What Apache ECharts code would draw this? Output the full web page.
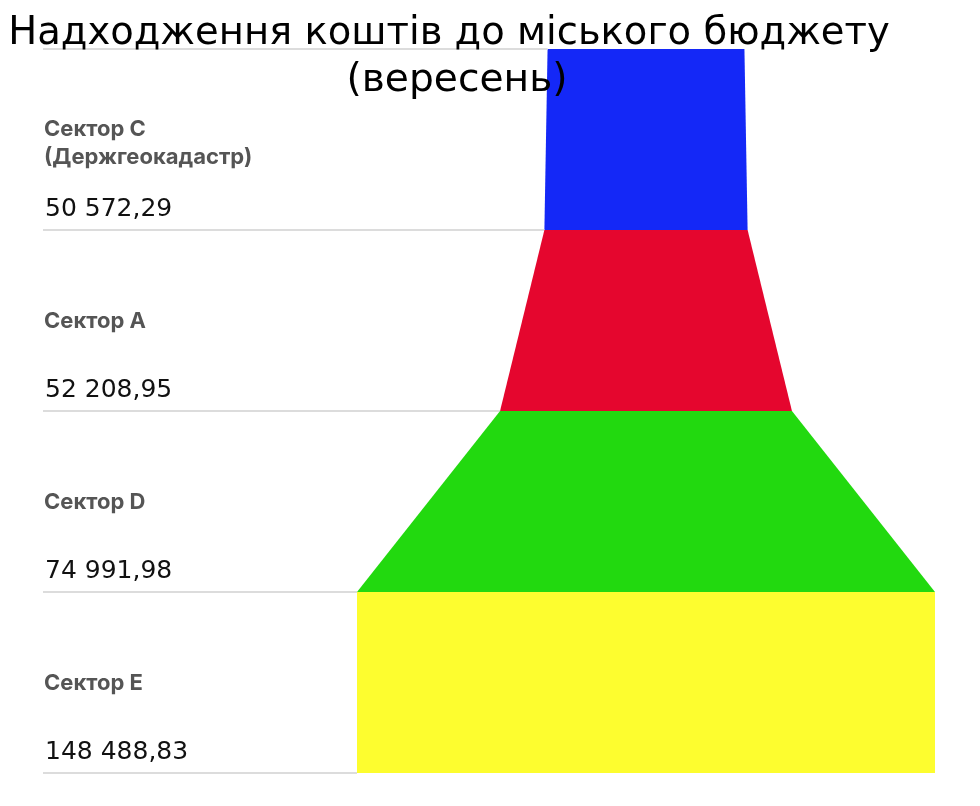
<!DOCTYPE html>
<html>
<head>
<meta charset="utf-8">
<script src="https://cdn.jsdelivr.net/npm/echarts@6/dist/echarts.min.js"></script>
<style>
html,body{margin:0;padding:0;background:#fff;}
#chart{width:980px;height:806px;}
</style>
</head>
<body>
<div id="chart"></div>
<script>
// ---- data ----
const titleLines = ['Надходження коштів до міського бюджету', '(вересень)'];
const sectorNames = ['Сектор C\n(Держгеокадастр)', 'Сектор A', 'Сектор D', 'Сектор E'];
const sectorValues = [50572.29, 52208.95, 74991.98, 148488.83];
const valueLabels = ['50 572,29', '52 208,95', '74 991,98', '148 488,83'];
const sectorColors = ['#1428F7', '#E5062E', '#22D90F', '#FDFD2F'];

const maxVal = Math.max.apply(null, sectorValues);
// each piece: top width = own value, bottom width = next value (last keeps own)
const pieceData = sectorValues.map(function (v, i) {
  const next = i < sectorValues.length - 1 ? sectorValues[i + 1] : v;
  return [i, v, next];
});

const LABEL_X = 44;
const LINE_COLOR = '#dcdcdc';

function renderItem(params, api) {
  const i = api.value(0);
  const topV = api.value(1);
  const botV = api.value(2);
  const center = api.coord([0, i]);
  const band = api.size([0, 1])[1];
  const yTop = center[1] - band / 2;
  const yBot = center[1] + band / 2;
  const tl = api.coord([-topV / 2, i])[0];
  const tr = api.coord([topV / 2, i])[0];
  const bl = api.coord([-botV / 2, i])[0];
  const br = api.coord([botV / 2, i])[0];
  const children = [
    {
      type: 'polygon',
      shape: { points: [[tl, yTop], [tr, yTop], [br, yBot], [bl, yBot]] },
      style: { fill: sectorColors[i] }
    },
    {
      type: 'line',
      shape: { x1: LABEL_X - 1, y1: yBot, x2: bl, y2: yBot },
      style: { stroke: LINE_COLOR, lineWidth: 2 }
    },
    {
      type: 'text',
      x: LABEL_X,
      y: center[1] + (i === 0 ? 4 : 1),
      style: {
        text: sectorNames[i],
        font: 'bold 22px Inter, sans-serif',
        fill: '#555555',
        lineHeight: 28,
        verticalAlign: 'middle',
        align: 'left'
      }
    },
    {
      type: 'text',
      x: LABEL_X + 1,
      y: yBot - 21,
      style: {
        text: valueLabels[i],
        font: '25px "DejaVu Sans", sans-serif',
        fill: '#111',
        verticalAlign: 'middle',
        align: 'left'
      }
    }
  ];
  if (i === 0) {
    children.push({
      type: 'line',
      shape: { x1: LABEL_X - 1, y1: yTop, x2: tl, y2: yTop },
      style: { stroke: LINE_COLOR, lineWidth: 2 }
    });
  }
  return { type: 'group', children: children };
}

function titleStyle(size) {
  return {
    fontFamily: 'DejaVu Sans',
    fontSize: size,
    fontWeight: 'normal',
    color: '#000'
  };
}

const chart = echarts.init(document.getElementById('chart'));
chart.setOption({
  backgroundColor: '#fff',
  animation: false,
  title: [
    { text: titleLines[0], left: 444, top: 9, textAlign: 'center', textStyle: titleStyle(38.5), z: 10 },
    { text: titleLines[1], left: 452, top: 56, textAlign: 'center', textStyle: titleStyle(39.2), z: 10 }
  ],
  grid: { left: 357, right: 45, top: 49, bottom: 33 },
  xAxis: {
    type: 'value',
    min: -maxVal / 2,
    max: maxVal / 2,
    show: false
  },
  yAxis: {
    type: 'category',
    data: sectorNames,
    inverse: true,
    show: false
  },
  series: [{
    type: 'custom',
    renderItem: renderItem,
    data: pieceData,
    encode: { x: [1, 2], y: 0 },
    clip: false,
    z: 2
  }]
});
</script>
</body>
</html>
